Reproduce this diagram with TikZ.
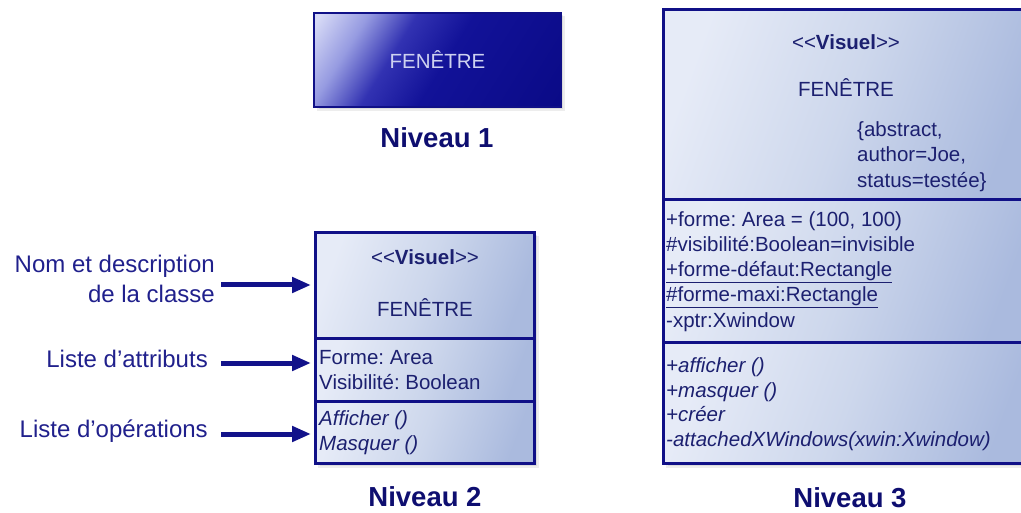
\documentclass[tikz,border=0pt]{standalone}
\usepackage{fontspec}
\setmainfont{Liberation Sans}
\usetikzlibrary{arrows.meta,calc}

\definecolor{navy}{RGB}{16,16,135}
\definecolor{txt}{RGB}{28,32,112}
\definecolor{lblc}{RGB}{32,32,140}
\definecolor{nivc}{RGB}{14,14,112}
\definecolor{arrc}{RGB}{18,18,138}
\definecolor{boxlight}{RGB}{230,235,247}
\definecolor{boxmid}{RGB}{205,215,236}
\definecolor{boxdark}{RGB}{170,186,222}
\definecolor{oneA}{RGB}{215,218,246}
\definecolor{oneB}{RGB}{150,155,225}
\definecolor{oneC}{RGB}{50,50,178}
\definecolor{oneD}{RGB}{18,18,152}
\definecolor{oneE}{RGB}{6,6,126}
\definecolor{onetxt}{RGB}{206,210,240}

\pgfdeclarehorizontalshading{levelone}{100bp}{color(0bp)=(oneA); color(17bp)=(oneA); color(28bp)=(oneB); color(39bp)=(oneC); color(52bp)=(oneD); color(100bp)=(oneE)}
\pgfdeclarehorizontalshading{compart}{100bp}{color(0bp)=(boxlight); color(25bp)=(boxlight); color(50bp)=(boxmid); color(75bp)=(boxdark); color(100bp)=(boxdark)}

\tikzset{
  boxtxt/.style={inner sep=0pt, text=txt, font=\fontsize{20.5}{25}\selectfont},
  lbl/.style={inner sep=0pt, text=lblc, font=\fontsize{24}{30}\selectfont},
  niv/.style={inner sep=0pt, text=nivc, font=\bfseries\fontsize{27.5}{33}\selectfont},
  cmp/.style={draw=navy, line width=3pt, shade, shading=compart, shading angle=-20,
              anchor=north west, inner sep=0pt, outer sep=0pt},
  lvlone/.style={draw=navy, line width=2pt, shade, shading=levelone, shading angle=-32,
              anchor=north west, inner sep=0pt, outer sep=0pt},
  arr/.style={draw=arrc, line width=5pt, -{Triangle[length=19pt,width=15pt]}},
  shadowbox/.style={fill=black, opacity=0.07},
}

\begin{document}
\frenchspacing
\begin{tikzpicture}[x=1pt,y=-1pt]
\useasboundingbox (0,0) rectangle (1021,513);
\clip (0,0) rectangle (1021,513);

% soft shadows
\fill[shadowbox] (317,16) rectangle (565,111);
\fill[shadowbox] (319,15) rectangle (563,109);
\fill[shadowbox] (318,236) rectangle (539,468);
\fill[shadowbox] (320,235) rectangle (537,466);
\fill[shadowbox] (666,13) rectangle (1030,468);
\fill[shadowbox] (668,12) rectangle (1030,466);

% ---------- Niveau 1 ----------
\node[lvlone, minimum width=247pt, minimum height=94pt] (n1) at (314,13) {};
\node[boxtxt, text=onetxt] (t1) at (n1.center) {FENÊTRE};
\node[niv] (v1) at (437,138) {Niveau 1};

% ---------- Niveau 2 ----------
\node[cmp, minimum width=219pt, minimum height=106pt] (h2) at (315,233) {};
\node[cmp, minimum width=219pt, minimum height=62pt] (a2) at (315,339) {};
\node[cmp, minimum width=219pt, minimum height=62pt] (o2) at (315,401) {};

\node[boxtxt, anchor=base] (st2) at (425,265) {<\kern0pt<\textbf{Visuel}>\kern0pt>};
\node[boxtxt, anchor=base] (nm2) at (425,317) {FENÊTRE};
\node[boxtxt, anchor=base west] (at2a) at (319,364) {Forme: Area};
\node[boxtxt, anchor=base west] (at2b) at (319,389) {Visibilité: Boolean};
\node[boxtxt, anchor=base west] (op2a) at (319,425) {\itshape Afficher ()};
\node[boxtxt, anchor=base west] (op2b) at (319,450) {\itshape Masquer ()};
\node[niv] (v2) at (425,497) {Niveau 2};

% labels and arrows
\node[lbl, align=right, anchor=east] (l1) at (215,279) {Nom et description\\de la classe};
\node[lbl, anchor=base east] (l2) at (208,367) {Liste d’attributs};
\node[lbl, anchor=base east] (l3) at (208,437) {Liste d’opérations};

\coordinate (s1) at (221,285);
\coordinate (s2) at (221,363);
\coordinate (s3) at (221,434);
\draw[arr, shorten >=4pt] (s1) -- (s1 -| h2.west);
\draw[arr, shorten >=4pt] (s2) -- (s2 -| a2.west);
\draw[arr, shorten >=4pt] (s3) -- (s3 -| o2.west);

% ---------- Niveau 3 ----------
\node[cmp, minimum width=370pt, minimum height=190pt] (h3) at (663,10) {};
\node[cmp, minimum width=370pt, minimum height=143pt] (a3) at (663,200) {};
\node[cmp, minimum width=370pt, minimum height=120pt] (o3) at (663,343) {};

\node[boxtxt, anchor=base] (st3) at (846,50) {<\kern0pt<\textbf{Visuel}>\kern0pt>};
\node[boxtxt, anchor=base] (nm3) at (846,97) {FENÊTRE};
\node[boxtxt, anchor=base west] (tg1) at (857,137) {\{abstract,};
\node[boxtxt, anchor=base west] (tg2) at (857,162) {author=Joe,};
\node[boxtxt, anchor=base west] (tg3) at (857,188) {status=testée\}};

\node[boxtxt, anchor=base west] (at3a) at (666,227) {+forme: Area = (100, 100)};
\node[boxtxt, anchor=base west] (at3b) at (666,252) {\#visibilité:Boolean=invisible};
\node[boxtxt, anchor=base west] (at3c) at (666,277) {\underline{+forme-défaut:Rectangle}};
\node[boxtxt, anchor=base west] (at3d) at (666,302) {\underline{\#forme-maxi:Rectangle}};
\node[boxtxt, anchor=base west] (at3e) at (666,327) {-xptr:Xwindow};

\node[boxtxt, anchor=base west] (op3a) at (666,372) {\itshape +afficher ()};
\node[boxtxt, anchor=base west] (op3b) at (666,397) {\itshape +masquer ()};
\node[boxtxt, anchor=base west] (op3c) at (666,421) {\itshape +créer};
\node[boxtxt, anchor=base west] (op3d) at (666,446) {\itshape -attachedXWindows(xwin:Xwindow)};
\node[niv] (v3) at (850,498) {Niveau 3};
\end{tikzpicture}
\end{document}
